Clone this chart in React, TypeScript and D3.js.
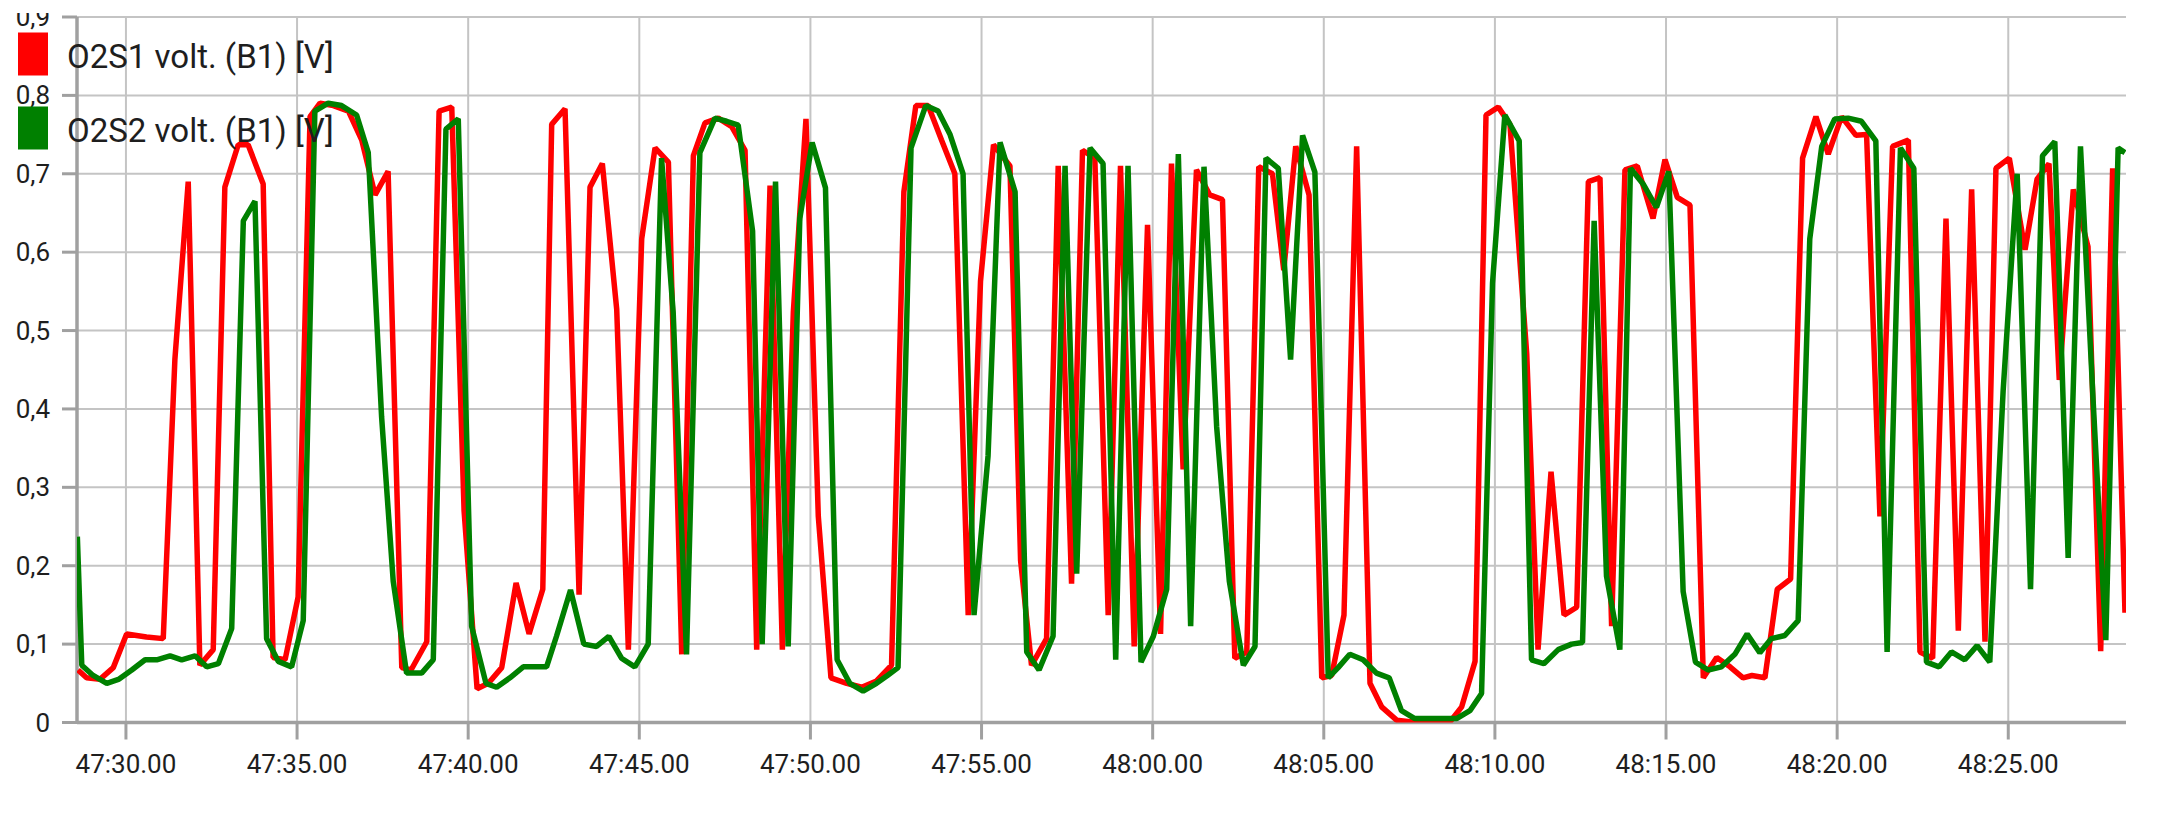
import React from 'react'
import { scaleLinear, line, range } from 'd3'

// time is seconds after 47:00, values in volts
const redTime = [28.6, 28.85, 29.24, 29.63, 30.02, 30.6, 31.09, 31.43, 31.82, 32.16, 32.55, 32.89, 33.28, 33.57, 34.01, 34.3, 34.65, 35.03, 35.38, 35.67, 36.06, 36.5, 36.89, 37.28, 37.66, 38.06, 38.33, 38.79, 39.15, 39.52, 39.88, 40.26, 40.59, 40.98, 41.4, 41.78, 42.18, 42.44, 42.83, 43.24, 43.56, 43.92, 44.34, 44.68, 45.07, 45.46, 45.85, 46.24, 46.58, 46.92, 47.31, 47.7, 48.09, 48.43, 48.82, 49.18, 49.5, 49.87, 50.23, 50.6, 51.06, 51.5, 51.93, 52.37, 52.73, 53.08, 53.44, 53.83, 54.22, 54.61, 54.97, 55.35, 55.83, 56.14, 56.46, 56.9, 57.24, 57.63, 57.95, 58.31, 58.7, 59.06, 59.46, 59.85, 60.23, 60.55, 60.89, 61.28, 61.67, 62.04, 62.4, 62.75, 63.1, 63.5, 63.83, 64.18, 64.57, 64.94, 65.23, 65.59, 65.96, 66.35, 66.69, 67.13, 67.52, 67.9, 68.29, 68.69, 69.03, 69.42, 69.74, 70.1, 70.44, 70.93, 71.26, 71.64, 72.02, 72.39, 72.73, 73.07, 73.41, 73.8, 74.16, 74.62, 74.97, 75.33, 75.7, 76.09, 76.48, 76.87, 77.25, 77.51, 77.89, 78.25, 78.64, 78.99, 79.38, 79.74, 80.13, 80.55, 80.86, 81.25, 81.62, 82.08, 82.42, 82.79, 83.18, 83.54, 83.93, 84.32, 84.64, 85.03, 85.49, 85.84, 86.19, 86.49, 86.9, 87.33, 87.7, 88.05, 88.41]
const redVolt = [0.067, 0.057, 0.055, 0.07, 0.113, 0.109, 0.107, 0.463, 0.69, 0.073, 0.093, 0.683, 0.737, 0.737, 0.687, 0.083, 0.08, 0.16, 0.773, 0.79, 0.787, 0.78, 0.743, 0.673, 0.703, 0.07, 0.067, 0.103, 0.78, 0.785, 0.27, 0.043, 0.05, 0.07, 0.178, 0.113, 0.17, 0.763, 0.783, 0.163, 0.683, 0.713, 0.527, 0.093, 0.617, 0.733, 0.715, 0.087, 0.723, 0.765, 0.771, 0.76, 0.73, 0.093, 0.685, 0.093, 0.523, 0.77, 0.263, 0.057, 0.05, 0.045, 0.053, 0.073, 0.677, 0.787, 0.787, 0.743, 0.7, 0.137, 0.563, 0.737, 0.71, 0.207, 0.073, 0.107, 0.71, 0.177, 0.73, 0.72, 0.137, 0.71, 0.097, 0.635, 0.113, 0.713, 0.323, 0.705, 0.673, 0.667, 0.082, 0.09, 0.709, 0.7, 0.577, 0.735, 0.673, 0.057, 0.06, 0.137, 0.735, 0.05, 0.02, 0.003, 0.001, 0.001, 0.001, 0.001, 0.02, 0.078, 0.775, 0.785, 0.763, 0.47, 0.093, 0.32, 0.137, 0.147, 0.69, 0.695, 0.123, 0.705, 0.71, 0.643, 0.718, 0.67, 0.66, 0.057, 0.083, 0.071, 0.057, 0.06, 0.057, 0.17, 0.183, 0.72, 0.773, 0.725, 0.773, 0.749, 0.75, 0.263, 0.735, 0.743, 0.09, 0.082, 0.643, 0.117, 0.68, 0.103, 0.707, 0.72, 0.603, 0.693, 0.713, 0.437, 0.68, 0.607, 0.091, 0.707, 0.14]

const greenTime = [28.58, 28.71, 29.04, 29.44, 29.78, 30.17, 30.56, 30.9, 31.29, 31.63, 32.02, 32.36, 32.7, 33.09, 33.43, 33.77, 34.11, 34.45, 34.84, 35.18, 35.52, 35.91, 36.3, 36.74, 37.08, 37.47, 37.81, 38.2, 38.64, 38.98, 39.35, 39.71, 40.1, 40.52, 40.83, 41.22, 41.61, 41.95, 42.29, 42.58, 42.99, 43.38, 43.75, 44.11, 44.48, 44.87, 45.26, 45.65, 45.99, 46.38, 46.77, 47.21, 47.55, 47.89, 48.31, 48.59, 48.98, 49.35, 49.69, 50.05, 50.44, 50.78, 51.15, 51.54, 51.93, 52.25, 52.56, 52.94, 53.37, 53.73, 54.08, 54.46, 54.78, 55.19, 55.54, 55.98, 56.32, 56.68, 57.09, 57.44, 57.78, 58.17, 58.55, 58.92, 59.28, 59.66, 60.02, 60.41, 60.75, 61.11, 61.5, 61.87, 62.24, 62.65, 62.99, 63.31, 63.67, 64.03, 64.38, 64.74, 65.13, 65.42, 65.76, 66.15, 66.54, 66.91, 67.27, 67.66, 68.05, 68.44, 68.88, 69.27, 69.61, 69.93, 70.29, 70.71, 71.07, 71.43, 71.85, 72.24, 72.56, 72.9, 73.26, 73.65, 73.96, 74.33, 74.72, 75.08, 75.5, 75.86, 76.23, 76.62, 77.01, 77.37, 77.74, 78.08, 78.47, 78.86, 79.2, 79.55, 79.93, 80.32, 80.71, 81.13, 81.46, 81.85, 82.24, 82.61, 82.98, 83.34, 83.73, 84.09, 84.46, 84.85, 85.26, 85.65, 86.0, 86.36, 86.75, 87.11, 87.48, 87.85, 88.21, 88.41]
const greenVolt = [0.237, 0.073, 0.06, 0.05, 0.055, 0.067, 0.08, 0.08, 0.085, 0.08, 0.085, 0.071, 0.075, 0.12, 0.64, 0.665, 0.107, 0.078, 0.071, 0.13, 0.78, 0.79, 0.787, 0.775, 0.727, 0.39, 0.18, 0.063, 0.063, 0.08, 0.757, 0.77, 0.123, 0.05, 0.045, 0.057, 0.071, 0.071, 0.071, 0.11, 0.169, 0.1, 0.097, 0.11, 0.082, 0.071, 0.1, 0.72, 0.523, 0.087, 0.727, 0.771, 0.767, 0.762, 0.627, 0.1, 0.69, 0.097, 0.643, 0.74, 0.682, 0.08, 0.05, 0.04, 0.05, 0.06, 0.07, 0.733, 0.787, 0.78, 0.75, 0.7, 0.137, 0.34, 0.74, 0.677, 0.09, 0.067, 0.11, 0.71, 0.19, 0.733, 0.713, 0.08, 0.71, 0.077, 0.11, 0.17, 0.725, 0.123, 0.709, 0.377, 0.18, 0.073, 0.097, 0.72, 0.707, 0.463, 0.749, 0.702, 0.057, 0.07, 0.087, 0.08, 0.063, 0.057, 0.015, 0.005, 0.005, 0.005, 0.005, 0.015, 0.037, 0.56, 0.775, 0.742, 0.08, 0.075, 0.093, 0.1, 0.102, 0.64, 0.187, 0.093, 0.707, 0.687, 0.657, 0.703, 0.167, 0.077, 0.067, 0.071, 0.087, 0.113, 0.089, 0.107, 0.111, 0.13, 0.617, 0.735, 0.77, 0.771, 0.767, 0.742, 0.09, 0.733, 0.707, 0.077, 0.071, 0.09, 0.08, 0.098, 0.077, 0.423, 0.7, 0.17, 0.723, 0.741, 0.21, 0.735, 0.41, 0.105, 0.733, 0.727]

const series = [
  { label: 'O2S1 volt. (B1) [V]', color: '#ff0000', time: redTime, volt: redVolt },
  { label: 'O2S2 volt. (B1) [V]', color: '#008000', time: greenTime, volt: greenVolt }
]

const xTicks = range(30, 88, 5)
const yTicks = range(0, 10).map(i => i / 10)

const W = 2163
const H = 818
const left = 77
const right = 2126
const top = 17
const bottom = 722.5

const font = 'Roboto, sans-serif'
const gridColor = '#c4c4c4'
const axisColor = '#a0a0a0'
const textColor = '#1e1e1e'

const fmtTime = (s: number) => {
  const m = 47 + Math.floor(s / 60)
  const sec = s - Math.floor(s / 60) * 60
  return `${m}:${sec.toFixed(2).padStart(5, '0')}`
}

export default function App() {
  const x = scaleLinear().domain([28.57, 88.44]).range([left, right])
  const y = scaleLinear().domain([0, 0.9]).range([bottom, top])

  return (
    <div style={{ position: 'absolute', top: 0, left: 0, background: '#fff' }}>
      <svg width={W} height={H} style={{ display: 'block', fontFamily: font }}>
        <rect width={W} height={H} fill='#fff' />
        <defs>
          <clipPath id='plot'>
            <rect x={left} y={top - 4} width={right - left} height={bottom - top + 4} />
          </clipPath>
        </defs>

        {/* horizontal grid + y ticks */}
        {yTicks.map(v => (
          <g key={v}>
            <line x1={left} x2={right} y1={y(v)} y2={y(v)} stroke={gridColor} strokeWidth={2} />
            <line x1={left - 15} x2={left} y1={y(v)} y2={y(v)} stroke={axisColor} strokeWidth={3} />
            <text x={50} y={y(v)} textAnchor='end' dominantBaseline='central' fontSize={26} fill={textColor}>
              {v === 0 ? '0' : v.toFixed(1).replace('.', ',')}
            </text>
          </g>
        ))}

        {/* vertical grid + x ticks */}
        {xTicks.map(t => (
          <g key={t}>
            <line x1={x(t)} x2={x(t)} y1={top} y2={bottom} stroke={gridColor} strokeWidth={2} />
            <line x1={x(t)} x2={x(t)} y1={bottom} y2={bottom + 17} stroke={axisColor} strokeWidth={3} />
            <text x={x(t)} y={772.5} textAnchor='middle' fontSize={26} fill={textColor}>{fmtTime(t)}</text>
          </g>
        ))}

        {/* axes */}
        <line x1={left} x2={left} y1={top} y2={bottom + 1.5} stroke={axisColor} strokeWidth={3.5} />
        <line x1={left} x2={right} y1={bottom} y2={bottom} stroke={axisColor} strokeWidth={3.5} />

        <g clipPath='url(#plot)'>
          {series.map(s => {
            const pts = s.time.map((t, i) => [t, s.volt[i]] as [number, number])
            const path = line<[number, number]>().x(d => x(d[0])).y(d => y(d[1]))(pts) ?? ''
            return (
              <path key={s.label} d={path} fill='none' stroke={s.color} strokeWidth={5.5} strokeLinejoin='bevel' />
            )
          })}
        </g>

        {/* top of the picture is cut off */}
        <rect x={0} y={0} width={left - 2} height={13} fill='#fff' />

        {/* legend */}
        {series.map((s, i) => (
          <g key={s.label} transform={`translate(0, ${i * 74})`}>
            <rect x={18} y={32.5} width={30} height={43} fill={s.color} />
            <text x={67} y={67.5} fontSize={33} fill={textColor}>{s.label}</text>
          </g>
        ))}
      </svg>
    </div>
  )
}
